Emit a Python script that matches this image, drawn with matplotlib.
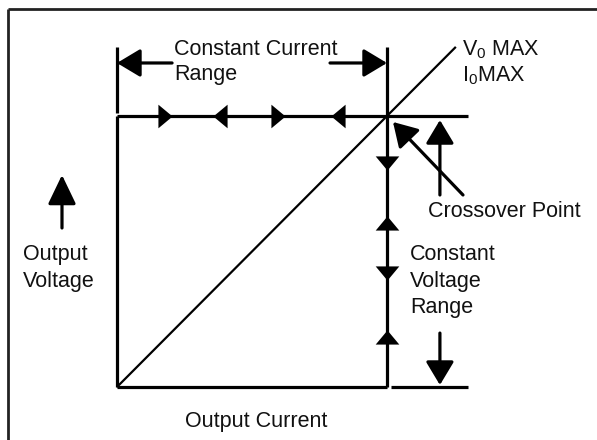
import matplotlib
matplotlib.use('Agg')
import matplotlib.pyplot as plt
from matplotlib.path import Path

plt.rcParams['font.family'] = ['Liberation Sans', 'DejaVu Sans']
plt.rcParams['mathtext.fontset'] = 'custom'
plt.rcParams['mathtext.rm'] = 'Liberation Sans'
plt.rcParams['mathtext.it'] = 'Liberation Sans:italic'

# ---- conceptual data (current / voltage in units of the max values) ----
I_MAX = 1.0
V_MAX = 1.0
LIMIT_EXTENT = 1.30          # how far the limit lines run past the crossover
LOAD_LINE_END = 1.255        # end of the diagonal load line
cc_marker_I = [0.178, 0.381, 0.596, 0.819]
cc_marker_dir = ['right', 'left', 'right', 'left']
cv_marker_V = [0.827, 0.605, 0.421, 0.185]
cv_marker_dir = ['down', 'up', 'down', 'up']

FS = 15.5
LW = 2.3
K = 'black'

fig = plt.figure(figsize=(5.97, 4.40), dpi=100)
ax = fig.add_axes([0, 0, 1, 1])
ax.set_xlim(-0.4333, 1.7778)
ax.set_ylim(-0.1956, 1.428)
ax.axis('off')

# outer frame (top and left only)
ax.plot([0.0134, 1.0], [0.9795, 0.9795], color='#222222', lw=2.0, transform=ax.transAxes, solid_capstyle='butt')
ax.plot([0.0134, 0.0134], [0.0, 0.9795], color='#222222', lw=2.0, transform=ax.transAxes, solid_capstyle='butt')

# characteristic rectangle
ax.plot([0, 0], [0, V_MAX], color=K, lw=LW, solid_capstyle='butt')                 # left side
ax.plot([0, LIMIT_EXTENT], [V_MAX, V_MAX], color=K, lw=LW, solid_capstyle='butt')  # voltage limit
ax.plot([I_MAX, I_MAX], [0, 1.2546], color=K, lw=LW, solid_capstyle='butt')       # current limit
ax.plot([0, I_MAX], [0, 0], color=K, lw=LW, solid_capstyle='butt')                 # bottom
ax.plot([1.015, LIMIT_EXTENT], [0, 0], color=K, lw=LW, solid_capstyle='butt')      # bottom right tick
ax.plot([0, 0], [1.011, 1.2546], color=K, lw=LW, solid_capstyle='butt')            # left range tick
# load line
ax.plot([0, LOAD_LINE_END], [0, LOAD_LINE_END], color=K, lw=1.6, solid_capstyle='butt')

# direction markers
tri_r = Path([(-0.6, -1), (0.6, 0), (-0.6, 1), (-0.6, -1)], [1, 2, 2, 79])
tri_l = Path([(0.6, -1), (-0.6, 0), (0.6, 1), (0.6, -1)], [1, 2, 2, 79])
tri_u = Path([(-1, -0.6), (0, 0.6), (1, -0.6), (-1, -0.6)], [1, 2, 2, 79])
tri_d = Path([(-1, 0.6), (0, -0.6), (1, 0.6), (-1, 0.6)], [1, 2, 2, 79])
mk = {'right': tri_r, 'left': tri_l, 'up': tri_u, 'down': tri_d}
for x, d in zip(cc_marker_I, cc_marker_dir):
    ax.plot([x], [V_MAX], marker=mk[d], markersize=17, color=K, mew=0)
for y, d in zip(cv_marker_V, cv_marker_dir):
    ax.plot([I_MAX], [y], marker=mk[d], markersize=17, color=K, mew=0)

# arrows
def arrow(tail, tip, hl=0.6, hw=0.36):
    ax.annotate('', xy=tip, xytext=tail,
                arrowprops=dict(arrowstyle=f'-|>,head_length={hl},head_width={hw}',
                                mutation_scale=24, lw=LW, color=K,
                                shrinkA=0, shrinkB=0))

arrow((0.204, 1.1956), (0.0, 1.1956))
arrow((0.789, 1.1956), (I_MAX, 1.1956))
arrow((1.2815, 0.7085), (1.0222, 0.9779))
arrow((1.196, 0.7085), (1.196, 0.985))
arrow((1.196, 0.199), (1.196, 0.0074))
arrow((-0.2037, 0.5867), (-0.2037, 0.7823), hl=0.75)

# labels
def label(x, y, s):
    ax.text(x, y, s, fontsize=FS, ha='left', va='baseline', color='#111111')

label(0.211, 1.2251, 'Constant Current')
label(0.211, 1.1328, 'Range')
label(1.2778, 1.2251, r'V$_0$ MAX')
label(1.2778, 1.1292, r'I$_0$MAX')
label(1.1519, 0.6273, 'Crossover Point')
label(1.0852, 0.4686, 'Constant')
label(1.0852, 0.3690, 'Voltage')
label(1.0852, 0.2731, 'Range')
label(-0.3481, 0.4686, 'Output')
label(-0.3481, 0.3690, 'Voltage')
label(0.2519, -0.1476, 'Output Current')

fig.savefig('out.png', dpi=100)
